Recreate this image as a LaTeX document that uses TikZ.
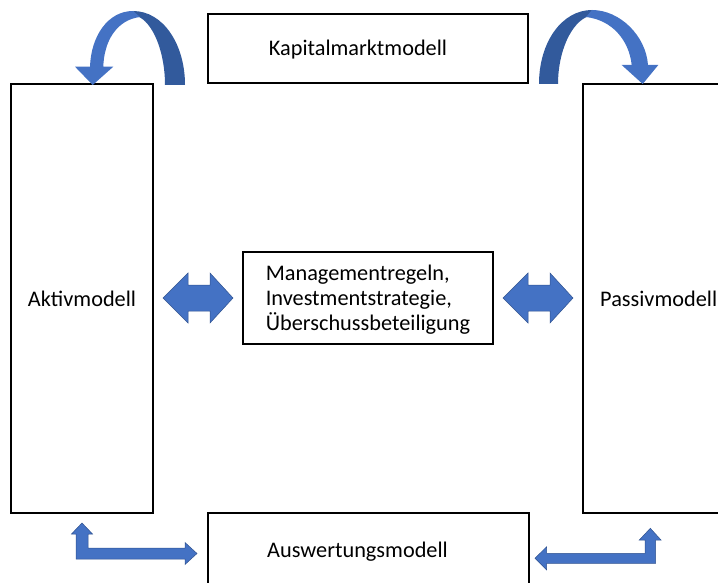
\documentclass[tikz,border=0pt]{standalone}
\usepackage{fontspec}
\setmainfont{Carlito}
\definecolor{blk}{HTML}{4472C4}
\definecolor{blkdark}{HTML}{325A9C}
\definecolor{blkline}{HTML}{2F528F}
\begin{document}
\begin{tikzpicture}[x=1pt,y=-1pt,
  modelbox/.style={draw=black,line width=1.1pt,fill=white,inner sep=0pt},
  boxtext/.style={inner sep=0pt,font=\fontsize{22.3}{25}\selectfont},
  blockarrow/.style={fill=blk,draw=blkline,line width=0.5pt,line join=miter}]
\useasboundingbox (0,0) rectangle (718,583);
\clip (0,0) rectangle (718,583);
% boxes
\node[modelbox,minimum width=320pt,minimum height=69pt] (kap) at (368,48.5) {};
\node[modelbox,minimum width=142pt,minimum height=429pt] (akt) at (82,298.5) {};
\node[modelbox,minimum width=152pt,minimum height=429pt] (pas) at (659,298.5) {};
\node[modelbox,minimum width=321pt,minimum height=78pt] (aus) at (368.5,552) {};
\node[modelbox,minimum width=250pt,minimum height=92pt] (mgmt) at (368,298) {};
% texts
\node[boxtext] (kaptext) at ([xshift=-10pt,yshift=-1pt]kap.center) {Kapitalmarktmodell};
\node[boxtext] (akttext) at (akt.center) {Aktivmodell};
\node[boxtext,anchor=west] (pastext) at (600,298.5) {Passivmodell};
\node[boxtext] (austext) at ([xshift=-11pt]aus.center) {Auswertungsmodell};
\node[boxtext,align=left] (mgmttext) at ([yshift=-2pt]mgmt.center) {Managementregeln,\\Investmentstrategie,\\Überschussbeteiligung};
% double arrows
\foreach \cx in {198,538}{
  \draw[blockarrow] (\cx-35,298) -- (\cx-10,273) -- (\cx-10,285) -- (\cx+12,285) -- (\cx+12,273)
    -- (\cx+35,298) -- (\cx+12,323) -- (\cx+12,311) -- (\cx-10,311) -- (\cx-10,323) -- cycle;
}
% bent arrow bottom left
\draw[blockarrow] (76,559) -- (76,534) -- (71.5,534) -- (82,523) -- (92.5,534) -- (88,534) -- (88,548)
  -- (185,548) -- (185,542.5) -- (197,553.5) -- (185,564.5) -- (185,559) -- cycle;
% bent arrow bottom right
\draw[blockarrow] (655.7,563.3) -- (655.7,540) -- (661,540) -- (650.3,528.3) -- (639.3,540) -- (645,540)
  -- (645,553.3) -- (546.7,553.3) -- (546.7,546.7) -- (535,558.3) -- (546.7,570) -- (546.7,563.3) -- cycle;
% curved arrow top left
\fill[blkdark] (133,11) .. controls (163,11) and (185,44) .. (185,85) -- (165,85)
  .. controls (165,52) and (153,22) .. (137,16) -- cycle;
\fill[blk] (133,11) .. controls (108,11) and (91,36) .. (90,66.7) -- (75,66.7) -- (92.7,85)
  -- (113.3,66.7) -- (103.3,66.7) .. controls (104,42) and (116,20) .. (140,17) -- cycle;
% curved arrow top right
\fill[blkdark] (592,10) .. controls (562,10) and (539,42) .. (539,84) -- (558,84)
  .. controls (558,52) and (571,22) .. (589,16) -- cycle;
\fill[blk] (592,10) .. controls (620,10) and (646,36) .. (648,65) -- (658.3,65) -- (642.7,84)
  -- (621.7,65) -- (631.7,65) .. controls (629,40) and (612,20) .. (586,17) -- cycle;
\end{tikzpicture}
\end{document}
